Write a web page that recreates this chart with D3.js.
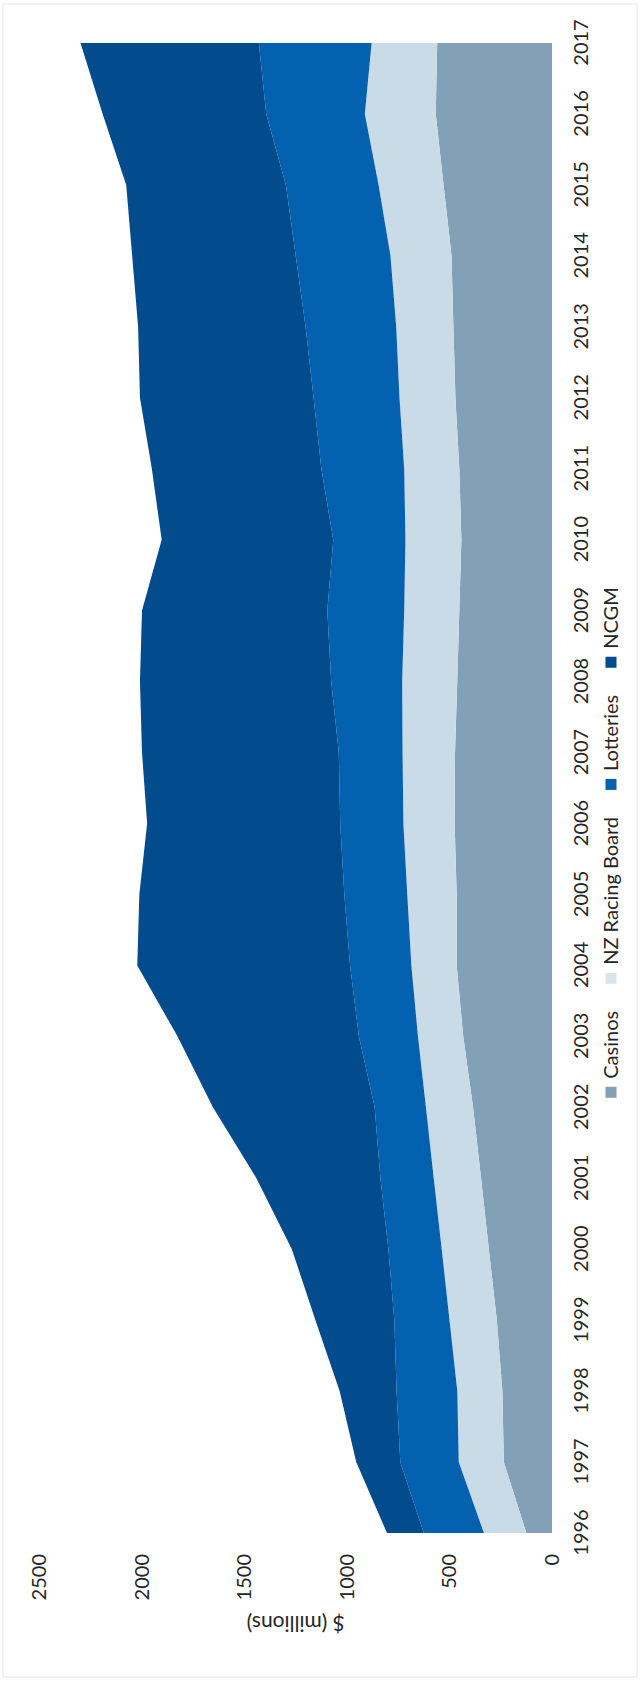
<!DOCTYPE html>
<html>
<head>
<meta charset="utf-8">
<script src="https://cdn.jsdelivr.net/npm/d3@7"></script>
<style>
  html, body { margin: 0; padding: 0; background: #ffffff; }
  svg { display: block; }
  text { font-family: Lato, "Open Sans", sans-serif; fill: #262626; }
</style>
</head>
<body>
<script>
// Gambling expenditure by sector, $ millions
const years = [1996, 1997, 1998, 1999, 2000, 2001, 2002, 2003, 2004, 2005, 2006,
               2007, 2008, 2009, 2010, 2011, 2012, 2013, 2014, 2015, 2016, 2017];
const casinos   = [125, 235, 242, 269, 308, 346, 385, 433, 465, 465, 475,
                   473, 462, 452, 442, 452, 471, 481, 490, 529, 567, 560];
const racing    = [207, 220, 220, 231, 230, 231, 230, 221, 221, 241, 250,
                   256, 269, 269, 273, 269, 273, 279, 298, 317, 346, 320];
const lotteries = [293, 285, 296, 269, 260, 260, 250, 288, 299, 307, 308,
                   311, 346, 375, 352, 404, 419, 442, 462, 452, 481, 550];
const ncgm      = [180, 215, 278, 385, 471, 605, 789, 885, 1038, 1000, 942,
                   960, 933, 904, 837, 827, 847, 817, 798, 779, 798, 870];
const seriesNames = ["Casinos", "NZ Racing Board", "Lotteries", "NCGM"];
const seriesColors = ["#82a0b6", "#c9dbe7", "#0461b0", "#024b8d"];
const valueTicks = [0, 500, 1000, 1500, 2000, 2500];

const pageW = 641, pageH = 1685;
// The chart is laid out landscape (pageH wide, pageW tall) and turned a quarter turn.
const W = pageH, H = pageW;

const rows = years.map((y, i) => ({
  year: y,
  "Casinos": casinos[i],
  "NZ Racing Board": racing[i],
  "Lotteries": lotteries[i],
  "NCGM": ncgm[i]
}));

const svg = d3.select("body").append("svg")
  .attr("width", pageW).attr("height", pageH);

// faint outer frame
svg.append("rect")
  .attr("x", 3).attr("y", 4).attr("width", 634).attr("height", 1673)
  .attr("fill", "none").attr("stroke", "#efefef").attr("stroke-width", 1.5);

const g = svg.append("g").attr("transform", `translate(0,${pageH}) rotate(-90)`);

const x = d3.scalePoint().domain(years).range([152, 1642]);
const y = d3.scaleLinear().domain([0, 2500]).range([552, 39.5]);

const stack = d3.stack().keys(seriesNames);
const layers = stack(rows);

const area = d3.area()
  .x(d => x(d.data.year))
  .y0(d => y(d[0]))
  .y1(d => y(d[1]));

g.append("g").selectAll("path")
  .data(layers)
  .join("path")
  .attr("d", area)
  .attr("fill", (d, i) => seriesColors[i]);

// value axis
const yAxis = g.append("g")
  .attr("transform", `translate(${x(years[0])},0)`)
  .call(d3.axisLeft(y).tickValues(valueTicks).tickSize(0).tickPadding(21).tickFormat(d3.format("d")));
yAxis.select(".domain").remove();
yAxis.selectAll("text").attr("font-size", 20).attr("font-family", "Lato, sans-serif").attr("fill", "#262626");

// year axis
const xAxis = g.append("g")
  .attr("transform", `translate(0,${y(0)})`)
  .call(d3.axisBottom(x).tickSize(0).tickPadding(22).tickFormat(d3.format("d")));
xAxis.select(".domain").remove();
xAxis.selectAll("text").attr("font-size", 20).attr("font-family", "Lato, sans-serif").attr("fill", "#262626");

// axis title
g.append("text")
  .attr("transform", `translate(62,${y(1250)}) rotate(-90)`)
  .attr("text-anchor", "middle")
  .attr("dy", "0.35em")
  .attr("font-size", 21)
  .text("$ (millions)");

// legend
const legend = g.append("g").attr("transform", "translate(0,611)");
const items = legend.selectAll("g").data(seriesNames).join("g");
items.append("rect")
  .attr("width", 11).attr("height", 11).attr("y", -5.5)
  .attr("fill", (d, i) => i === 1 ? "#dbe5ec" : seriesColors[i]);
items.append("text")
  .attr("x", 19).attr("dy", "0.35em")
  .attr("font-size", 20)
  .text(d => d);
let pos = 0;
const offsets = [];
items.each(function () {
  const w = 19 + d3.select(this).select("text").node().getComputedTextLength();
  offsets.push(pos);
  pos += w + 27;
});
const total = pos - 27;
const start = W / 2 - total / 2;
items.attr("transform", (d, i) => `translate(${start + offsets[i]},0)`);
</script>
</body>
</html>
